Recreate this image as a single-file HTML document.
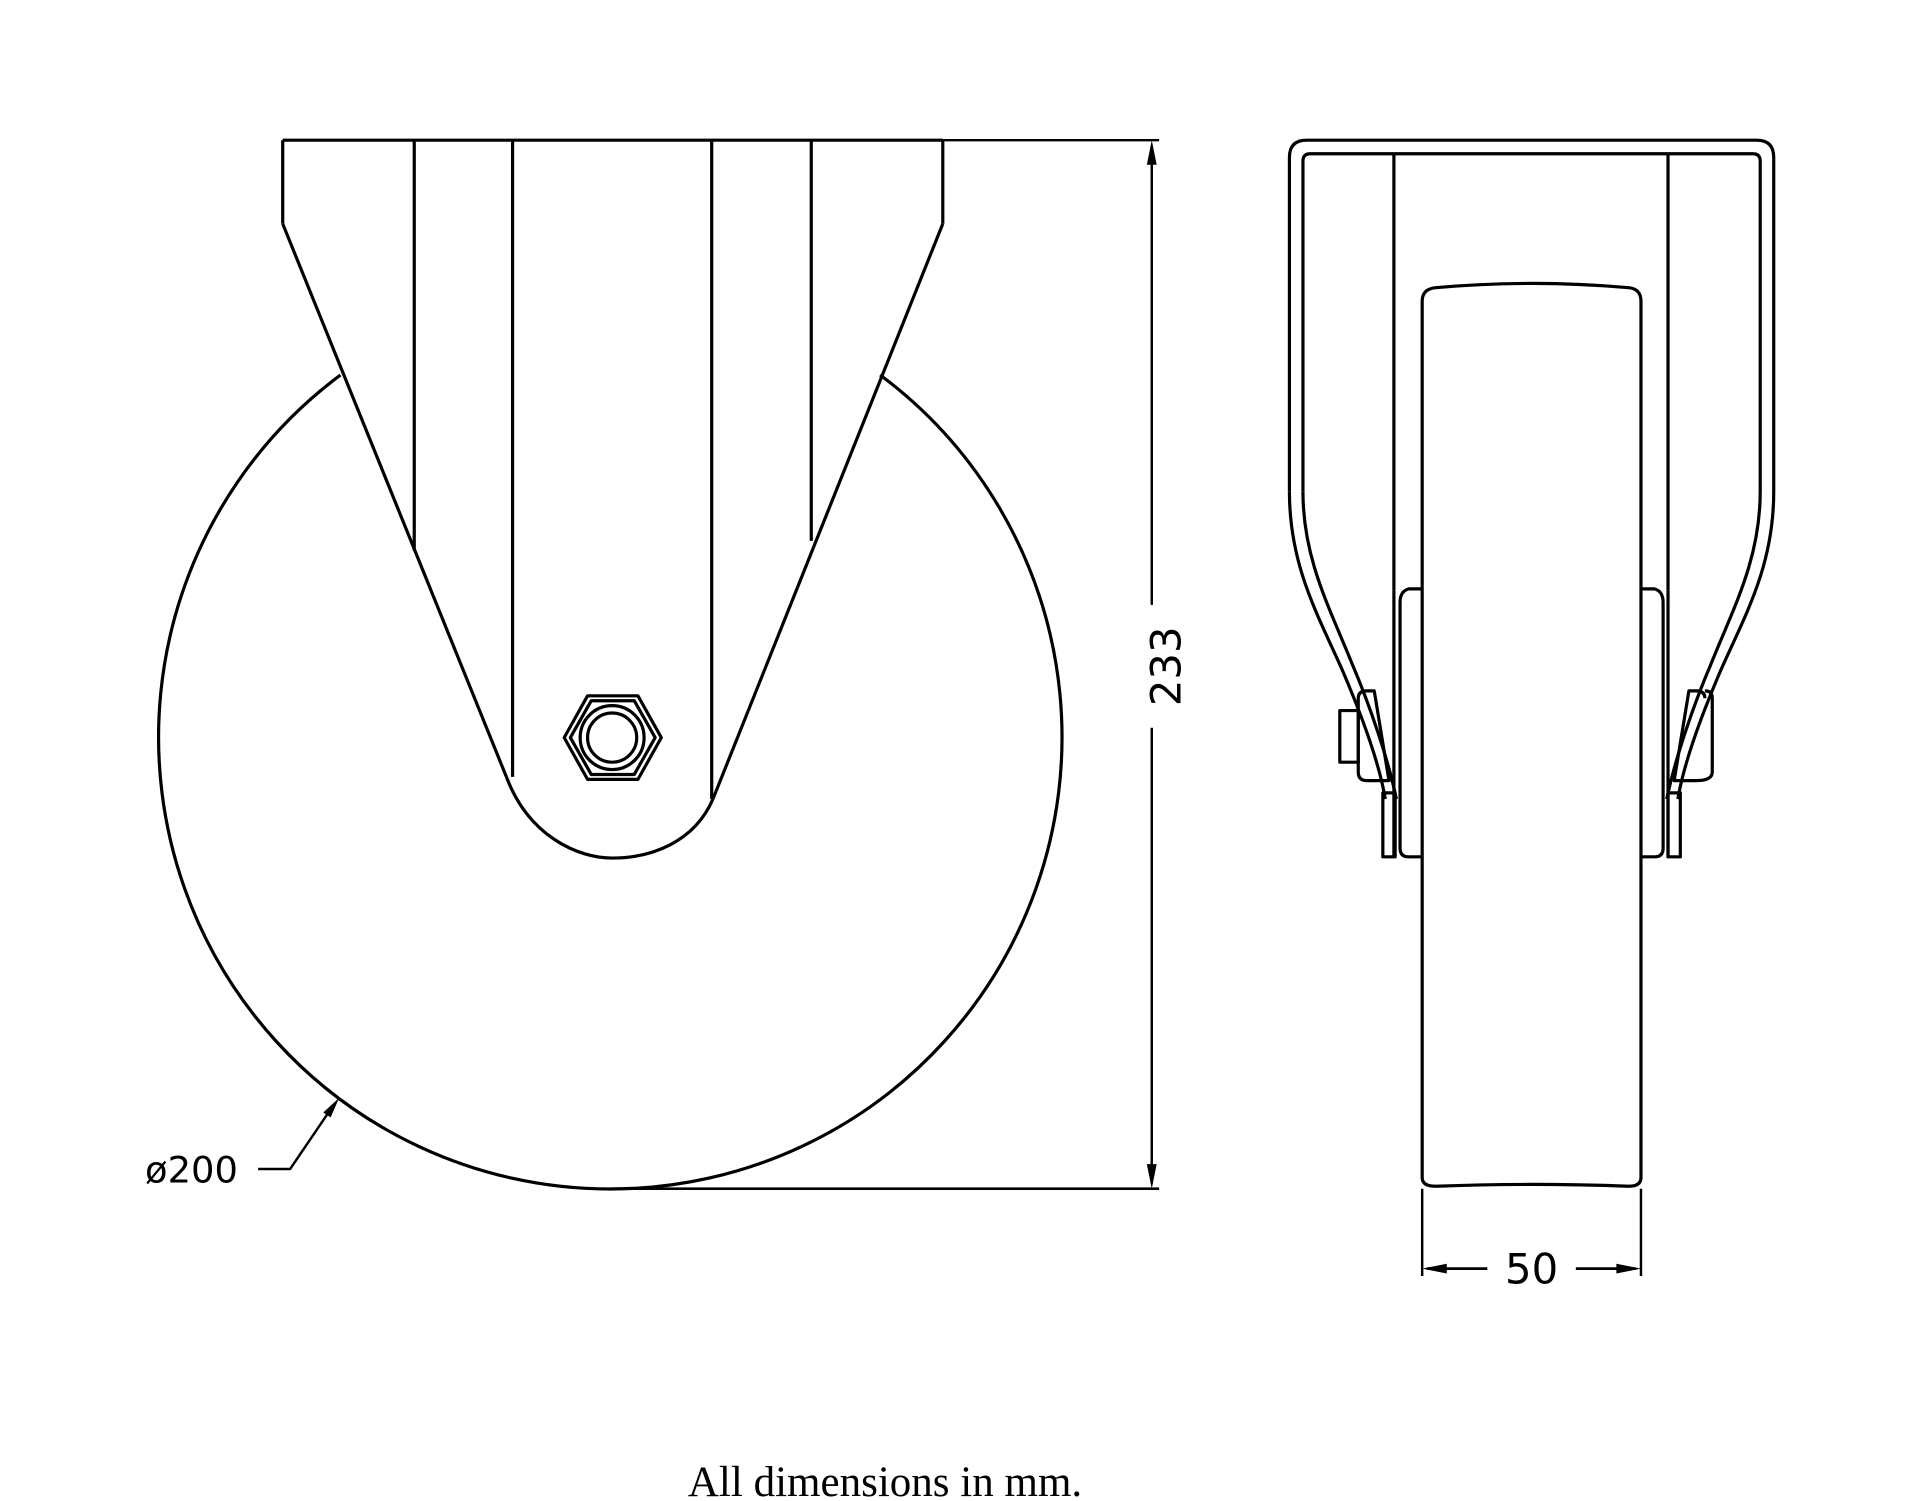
<!DOCTYPE html>
<html><head><meta charset="utf-8"><style>html,body{margin:0;padding:0;background:#fff}svg{display:block}</style></head>
<body>
<svg width="1920" height="1501" viewBox="0 0 1562 1221" xmlns="http://www.w3.org/2000/svg">
<g fill="none" stroke="#000" stroke-width="2.6" stroke-linejoin="round">
<line x1="230" y1="114" x2="767" y2="114"/>
<line x1="230" y1="114" x2="230" y2="182"/>
<line x1="767" y1="114" x2="767" y2="182"/>
<line x1="230" y1="182" x2="412" y2="632"/>
<line x1="767" y1="182" x2="580" y2="650"/>
<line x1="337" y1="114" x2="337" y2="448"/>
<line x1="660" y1="114" x2="660" y2="440"/>
<line x1="417" y1="114" x2="417" y2="632"/>
<line x1="579" y1="114" x2="579" y2="650"/>
<path d="M412 632 C430 680 470 698 498 698 C530 698 565 685 580 650"/>
<path d="M277 305 A367.5 367.5 0 1 0 716 305"/>
<polygon points="459,600 478,566 519,566 538,600 519,634 478,634"/>
<polygon points="464,600 481,570 516,570 533,600 516,630 481,630"/>
<circle cx="498" cy="600" r="26"/>
<circle cx="498" cy="600" r="20"/>
<line x1="767" y1="114" x2="943" y2="114" stroke-width="2"/>
<line x1="498" y1="967" x2="943" y2="967" stroke-width="2.2"/>
<line x1="937" y1="118" x2="937" y2="492" stroke-width="2"/>
<line x1="937" y1="592" x2="937" y2="963" stroke-width="2"/>
<polyline points="210,951 236,951 272,898" stroke-width="2"/>
<path d="M1049 400 L1049 128 Q1049 114 1063 114 L1429 114 Q1443 114 1443 128 L1443 400 C1443 460 1420 500 1400 545 C1385 580 1370 620 1365 650"/>
<path d="M1060 400 L1060 131 Q1060 125 1066 125 L1426 125 Q1432 125 1432 131 L1432 400 C1432 455 1410 495 1392 540 C1377 575 1362 620 1356 650"/>
<path d="M1049 400 C1049 460 1072 500 1092 545 C1107 580 1122 620 1127 650"/>
<path d="M1060 400 C1060 455 1082 495 1100 540 C1115 575 1130 620 1136 650"/>
<line x1="1134" y1="125" x2="1134" y2="480"/>
<line x1="1357" y1="125" x2="1357" y2="480"/>
<path d="M1157 245 Q1157 235 1168 234 Q1245 227 1325 234 Q1335 235 1335 245 L1335 958 Q1335 965 1325 965 Q1245 962 1168 965 Q1157 965 1157 958 Z"/>
<path d="M1157 479 L1146 479 Q1139 481 1139 490 L1139 690 Q1139 697 1146 697 L1157 697"/>
<path d="M1335 479 L1346 479 Q1353 481 1353 490 L1353 690 Q1353 697 1346 697 L1335 697"/>
<line x1="1134" y1="480" x2="1134" y2="697"/>
<line x1="1357" y1="480" x2="1357" y2="697"/>
<rect x="1125" y="645" width="10" height="52"/>
<rect x="1357" y="645" width="10" height="52"/>
<rect x="1090" y="578" width="15" height="42"/>
<path d="M1105 568 Q1105 562 1112 562 L1118 562 L1130 635 L1112 635 Q1105 635 1105 628 Z"/>
<path d="M1387 568 Q1387 562 1380 562 L1374 562 L1362 635 L1380 635 Q1393 635 1393 628 L1393 568 Q1393 562 1387 562"/>
<line x1="1157" y1="967" x2="1157" y2="1038" stroke-width="2"/>
<line x1="1335" y1="967" x2="1335" y2="1038" stroke-width="2"/>
<line x1="1161" y1="1032" x2="1210" y2="1032" stroke-width="2.2"/>
<line x1="1282" y1="1032" x2="1331" y2="1032" stroke-width="2.2"/>
</g>
<g fill="#000" stroke="none">
<polygon points="937,114 933,134 941,134"/>
<polygon points="937,967 933,947 941,947"/>
<polygon points="276,893 263,905 269,909"/>
<polygon points="1157,1032 1177,1028 1177,1036"/>
<polygon points="1335,1032 1315,1028 1315,1036"/>
</g>
<g font-family="'DejaVu Sans', 'Liberation Sans', sans-serif" font-size="34" fill="#000">
<text x="951" y="542" transform="rotate(-90 951 542)" text-anchor="middle" dominant-baseline="middle">233</text>
<text x="1246" y="1044" text-anchor="middle">50</text>
<text x="118" y="962" font-size="30">ø200</text>
</g>
<text x="720" y="1217" text-anchor="middle" font-family="'Liberation Serif', serif" font-size="35" fill="#000">All dimensions in mm.</text>
</svg>
</body></html>
